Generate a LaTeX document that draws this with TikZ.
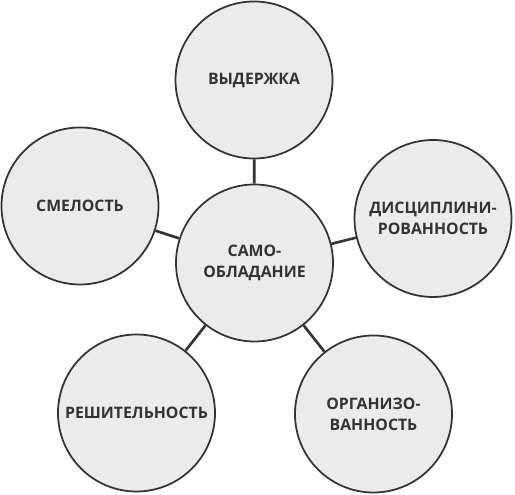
\documentclass[tikz,border=0pt]{standalone}
\usepackage{fontspec}
\setmainfont{Open Sans}
\usepackage{xcolor}
\usetikzlibrary{positioning}
\definecolor{bubblefill}{HTML}{EBEBEB}
\definecolor{bubbleline}{HTML}{333333}
\definecolor{bubbletext}{HTML}{333333}
\begin{document}
\begin{tikzpicture}[
		bubble/.style={circle, draw=bubbleline, line width=1pt, fill=bubblefill, minimum size=3.14cm, inner sep=0pt, align=center, text=bubbletext, font=\bfseries\fontsize{9}{12}\selectfont},
		link/.style={draw=bubbleline, line width=1.5pt},
	]
		\useasboundingbox (0,0) rectangle (10.3,9.9);

		\node[bubble] (core) at (5.09,4.64) {САМО-\\ОБЛАДАНИЕ};
		\node[bubble] (restraint) at (5.08,8.30) {ВЫДЕРЖКА};
		\node[bubble] (courage) at (1.60,5.78) {СМЕЛОСТЬ};
		\node[bubble] (discipline) at (8.66,5.53) {ДИСЦИПЛИНИ-\\РОВАННОСТЬ};
		\node[bubble] (resolve) at (2.73,1.64) {РЕШИТЕЛЬНОСТЬ};
		\node[bubble] (order) at (7.47,1.62) {ОРГАНИЗО-\\ВАННОСТЬ};

		\foreach \n in {restraint,courage,discipline,resolve,order}
			\draw[link] (core) -- (\n);
	\end{tikzpicture}
\end{document}
